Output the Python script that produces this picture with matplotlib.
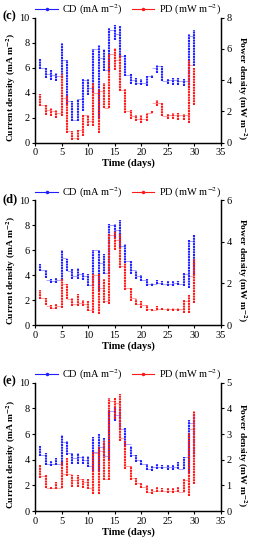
import numpy as np
import matplotlib
matplotlib.use('Agg')
import matplotlib.pyplot as plt
from matplotlib.lines import Line2D

plt.rcParams['font.family'] = ['Liberation Serif', 'DejaVu Serif']
plt.rcParams['mathtext.fontset'] = 'stix'

days = list(range(1, 31))

# panel (c)
c_cd_lo = [5.9,5.2,5.0,4.9,5.2,3.1,1.7,1.7,2.5,3.8,4.0,2.0,5.7,5.7,8.2,6.8,5.3,4.7,4.6,4.6,4.5,5.2,5.6,4.9,4.7,4.6,4.6,4.5,4.4,6.1]
c_cd_hi = [6.7,6.0,5.8,5.6,8.0,6.6,3.3,3.5,5.1,5.1,7.5,7.8,7.5,9.2,9.4,9.3,7.0,5.5,5.2,5.1,5.3,5.4,6.2,6.1,5.1,5.2,5.2,5.1,8.7,9.0]
c_cd_link = [6.0,5.5,5.4,5.3,6.6,3.3,1.8,3.5,5.0,4.4,7.5,6.8,5.8,9.0,8.7,6.9,5.4,5.0,4.8,4.8,5.3,6.0,6.1,4.9,5.0,5.0,4.9,4.9,8.5]
c_pd_lo = [2.32,1.76,1.68,1.6,1.68,0.64,0.16,0.16,0.4,1.04,1.04,0.64,2.24,2.24,4.64,3.28,1.92,1.52,1.36,1.28,1.36,1.92,2.32,1.68,1.52,1.52,1.44,1.44,1.28,2.4]
c_pd_hi = [3.12,2.4,2.24,2.08,4.4,3.04,0.72,0.8,1.76,1.76,3.84,3.44,3.84,5.68,6.08,5.6,3.44,2.08,1.76,1.76,1.92,2.0,2.72,2.56,1.84,1.92,1.92,1.84,5.28,4.8]
c_pd_link = [2.4,2.08,2.0,1.92,2.88,0.72,0.32,0.8,1.76,1.36,3.2,3.28,2.24,5.68,5.28,3.36,2.0,1.68,1.52,1.52,1.92,2.56,2.56,1.68,1.76,1.76,1.76,1.76,4.96]

# panel (d)
d_cd_lo = [4.3,3.8,3.4,3.4,3.6,4.3,3.7,3.7,3.6,3.1,3.1,2.7,4.1,4.1,7.0,6.2,5.0,4.1,3.7,3.5,3.1,3.1,3.3,3.2,3.1,3.1,3.2,3.1,3.0,4.0]
d_cd_hi = [4.9,4.4,3.7,3.8,6.0,5.3,4.5,4.6,4.2,4.1,6.0,6.0,5.7,8.1,8.1,8.4,6.5,5.1,4.3,4.0,3.7,3.4,3.6,3.5,3.5,3.5,3.5,4.2,6.8,7.2]
d_cd_link = [4.4,3.6,3.5,3.6,5.4,4.3,3.9,4.1,3.9,3.2,6.0,5.0,4.2,8.0,7.6,6.3,5.1,4.4,3.9,3.6,3.3,3.3,3.4,3.3,3.3,3.4,3.3,4.1,6.7]
d_pd_lo = [1.26,0.96,0.78,0.78,0.84,1.26,0.9,0.9,0.9,0.66,0.6,0.54,1.08,1.02,3.6,2.76,1.68,1.14,0.96,0.84,0.66,0.66,0.72,0.72,0.66,0.66,0.66,0.6,0.6,1.08]
d_pd_hi = [1.68,1.32,0.96,1.02,2.22,1.98,1.32,1.5,1.2,1.14,2.46,2.46,2.22,4.38,4.5,4.38,3.0,1.8,1.26,1.14,0.96,0.78,0.9,0.84,0.84,0.84,0.84,1.2,1.44,3.18]
d_pd_link = [1.32,0.9,0.84,0.9,1.98,1.26,1.02,1.08,1.02,0.72,2.4,1.8,1.14,4.32,4.08,2.82,1.8,1.32,1.02,0.96,0.78,0.72,0.78,0.78,0.78,0.78,0.78,1.14,2.34]

# panel (e)
e_cd_lo = [4.3,3.6,3.5,3.6,3.6,4.4,3.7,3.7,3.7,3.4,3.1,3.1,4.3,4.0,7.0,6.3,5.1,4.2,3.8,3.6,3.2,3.1,3.3,3.3,3.2,3.2,3.3,3.3,3.0,4.2]
e_cd_hi = [5.1,4.5,3.9,4.1,5.9,5.5,4.5,4.5,4.3,4.3,5.8,6.0,5.7,7.9,8.0,8.1,6.5,5.1,4.4,4.0,3.7,3.5,3.7,3.6,3.6,3.6,3.8,4.2,7.1,7.6]
e_cd_link = [4.4,3.7,3.7,3.7,5.4,4.5,4.1,4.2,4.0,3.5,4.6,5.0,4.3,7.8,7.5,6.4,5.2,4.4,4.0,3.7,3.3,3.4,3.4,3.4,3.4,3.4,3.3,4.2,6.9]
e_pd_lo = [1.3,0.9,0.85,0.85,0.9,1.35,0.95,0.95,0.9,0.85,0.65,0.65,1.2,1.2,3.6,2.75,1.65,1.2,1.0,0.9,0.7,0.65,0.75,0.75,0.7,0.7,0.75,0.75,0.6,1.05]
e_pd_hi = [1.8,1.4,0.95,1.15,1.9,2.05,1.4,1.4,1.25,1.25,2.3,2.5,2.75,4.4,4.4,4.55,2.75,1.75,1.3,1.1,1.0,0.85,0.95,0.9,0.9,0.9,0.95,1.25,3.05,3.9]
e_pd_link = [1.35,0.9,0.9,0.9,1.45,1.45,1.2,1.25,1.15,0.9,2.25,2.35,1.25,4.3,4.2,2.85,1.75,1.3,1.1,0.95,0.75,0.8,0.8,0.8,0.8,0.8,0.75,1.2,3.2]

panels = [
    ('(c)', c_cd_lo, c_cd_hi, c_cd_link, c_pd_lo, c_pd_hi, c_pd_link, 8, [0.132, 0.7405, 0.698, 0.2275]),
    ('(d)', d_cd_lo, d_cd_hi, d_cd_link, d_pd_lo, d_pd_hi, d_pd_link, 6, [0.132, 0.409, 0.698, 0.227]),
    ('(e)', e_cd_lo, e_cd_hi, e_cd_link, e_pd_lo, e_pd_hi, e_pd_link, 5, [0.132, 0.0709, 0.698, 0.233]),
]

blue = '#1f1fff'
red = '#ff1a1a'
fs = 7.5

fig = plt.figure(figsize=(2.66, 5.5), dpi=100)

def draw(ax, lo, hi, link, col):
    ax.hlines(link, days[:-1], days[1:], colors=col, lw=0.6, alpha=0.45)
    ax.vlines(days, lo, hi, colors=col, lw=1.5, linestyles=(0, (1.0, 0.3)))

for lab, cl, ch, ck, pl, ph, pk, pmax, rect in panels:
    ax = fig.add_axes(rect)
    ax2 = ax.twinx()
    draw(ax, cl, ch, ck, blue)
    draw(ax2, pl, ph, pk, red)
    ax.set_xlim(0, 35)
    ax.set_ylim(0, 10)
    ax2.set_ylim(0, pmax)
    ax.set_xticks(range(0, 36, 5))
    ax.set_yticks(range(0, 11, 2))
    ax2.set_yticks(range(0, pmax + 1, 2 if pmax > 5 else 1))
    for a in (ax, ax2):
        a.spines['top'].set_visible(False)
        for s in a.spines.values():
            s.set_linewidth(0.9)
        a.tick_params(labelsize=fs, width=0.8, length=2.5, pad=1.5)
    ax.set_xlabel('Time (days)', fontsize=fs, fontweight='bold', labelpad=1)
    ax.set_ylabel('Current density (mA m$^{\\mathbf{-2}}$)', fontsize=6.8, fontweight='bold',
                  labelpad=1, y=0.44)
    ax2.set_ylabel('Power density (mW m$^{\\mathbf{-2}}$)', fontsize=6.8, fontweight='bold',
                   rotation=270, labelpad=12, y=0.44)
    ax.text(-0.175, 1.01, lab, transform=ax.transAxes, fontsize=9, fontweight='bold',
            ha='left', va='center')
    handles = [Line2D([], [], color=blue, lw=0.8, marker='.', ms=3),
               Line2D([], [], color=red, lw=0.8, marker='.', ms=3)]
    ax2.legend(handles, ['CD (mA m$^{-2}$)', 'PD (mW m$^{-2}$)'], loc='center',
               bbox_to_anchor=(0.5, 1.06), ncol=2, frameon=False, fontsize=fs,
               handlelength=2.2, columnspacing=0.8, handletextpad=0.4, borderpad=0)

fig.savefig('out.png', dpi=100)
